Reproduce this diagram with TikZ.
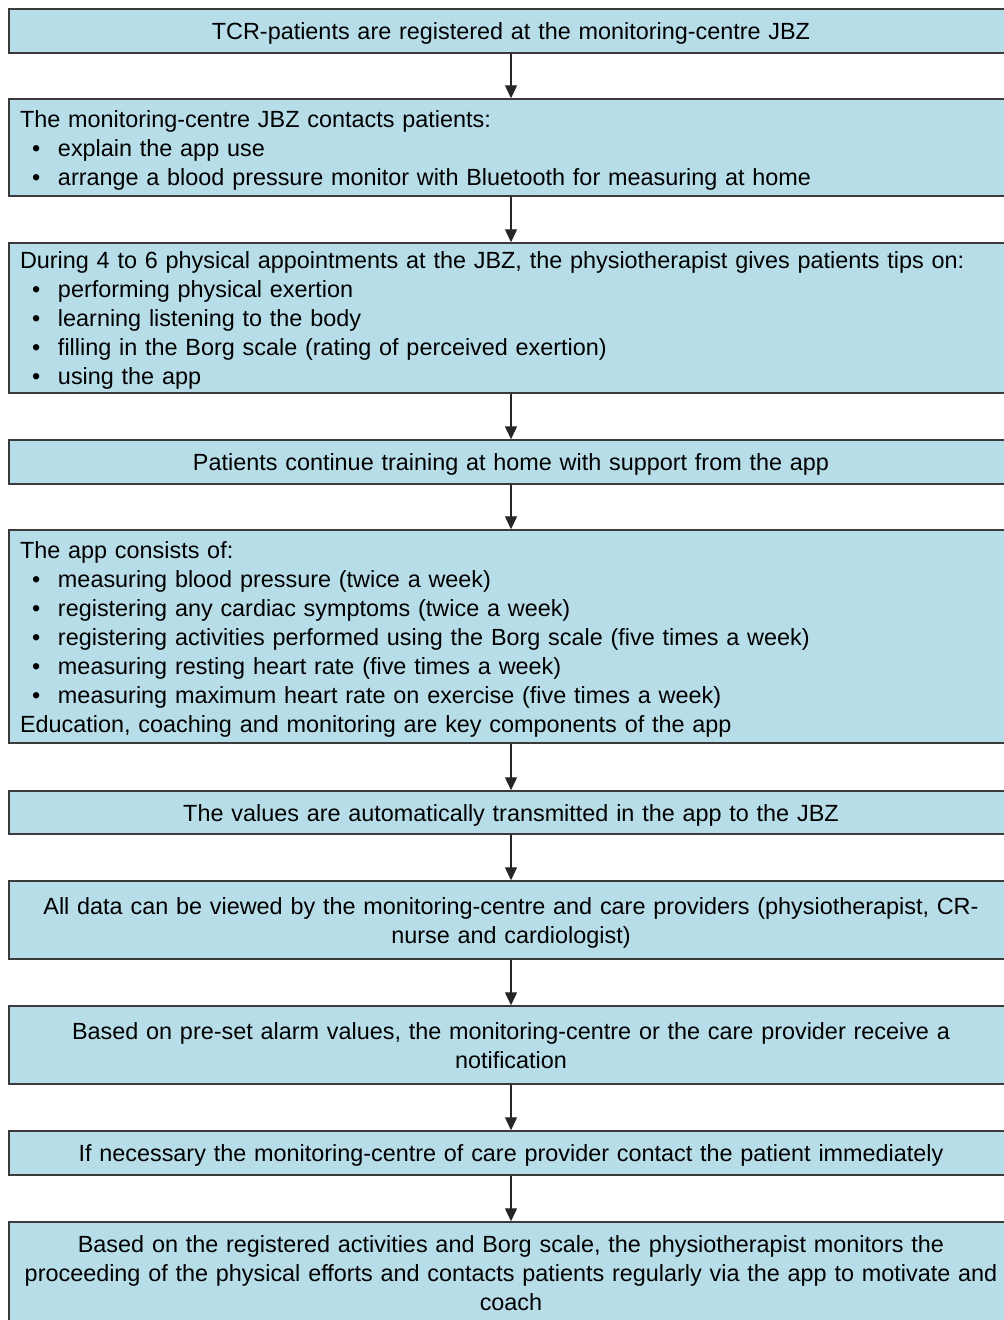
\documentclass[tikz,border=0pt]{standalone}
\usepackage{fontspec}
\setmainfont{Liberation Sans}
\usetikzlibrary{arrows.meta}
\definecolor{boxfill}{HTML}{B7DDE8}
\definecolor{boxline}{HTML}{3A3A3A}
\newcommand{\bul}{\makebox[38pt][l]{\hspace{12pt}\textbullet}}
\newcommand{\topstrut}{\rule{0pt}{23.3pt}}
\newcommand{\botstrut}{\rule[-5.7pt]{0pt}{5.7pt}}
\begin{document}
\begin{tikzpicture}[x=1pt,y=-1pt,
  box/.style={draw=boxline, fill=boxfill, line width=1.5pt,
    inner ysep=0pt, font=\fontsize{23.4}{29}\selectfont,
    execute at begin node=\topstrut, execute at end node=\botstrut},
  lbox/.style={box, align=left, text width=982pt, inner xsep=11pt},
  cbox/.style={box, align=center, text width=1000pt, inner xsep=2pt},
  arr/.style={line width=1.4pt, draw=black!85, -{Triangle[width=12pt,length=13pt]}}]
\useasboundingbox (0,0) rectangle (1004,1320);
\node[cbox, minimum height=44pt] (b1) at (511,31) {TCR-patients are registered at the monitoring-centre JBZ};
\node[lbox, minimum height=97pt] (b2) at (511,147.5) {The monitoring-centre JBZ contacts patients:\\
\bul explain the app use\\
\bul arrange a blood pressure monitor with Bluetooth for measuring at home};
\node[lbox, minimum height=150pt] (b3) at (511,318) {During 4 to 6 physical appointments at the JBZ, the physiotherapist gives patients tips on:\\
\bul performing physical exertion\\
\bul learning listening to the body\\
\bul filling in the Borg scale (rating of perceived exertion)\\
\bul using the app};
\node[cbox, minimum height=44pt] (b4) at (511,462) {Patients continue training at home with support from the app};
\node[lbox, minimum height=213pt] (b5) at (511,636.5) {The app consists of:\\
\bul measuring blood pressure (twice a week)\\
\bul registering any cardiac symptoms (twice a week)\\
\bul registering activities performed using the Borg scale (five times a week)\\
\bul measuring resting heart rate (five times a week)\\
\bul measuring maximum heart rate on exercise (five times a week)\\
Education, coaching and monitoring are key components of the app};
\node[cbox, minimum height=43pt] (b6) at (511,812.5) {The values are automatically transmitted in the app to the JBZ};
\node[cbox, minimum height=78pt] (b7) at (511,920) {All data can be viewed by the monitoring-centre and care providers (physiotherapist, CR-\\nurse and cardiologist)};
\node[cbox, minimum height=78pt] (b8) at (511,1045) {Based on pre-set alarm values, the monitoring-centre or the care provider receive a\\notification};
\node[cbox, minimum height=44pt] (b9) at (511,1153) {If necessary the monitoring-centre of care provider contact the patient immediately};
\node[cbox, minimum height=102pt] (b10) at (511,1273) {Based on the registered activities and Borg scale, the physiotherapist monitors the\\proceeding of the physical efforts and contacts patients regularly via the app to motivate and\\coach};
\foreach \a/\b in {b1/b2,b2/b3,b3/b4,b4/b5,b5/b6,b6/b7,b7/b8,b8/b9,b9/b10}
  \draw[arr] (\a.south) -- (\b.north);
\end{tikzpicture}
\end{document}
